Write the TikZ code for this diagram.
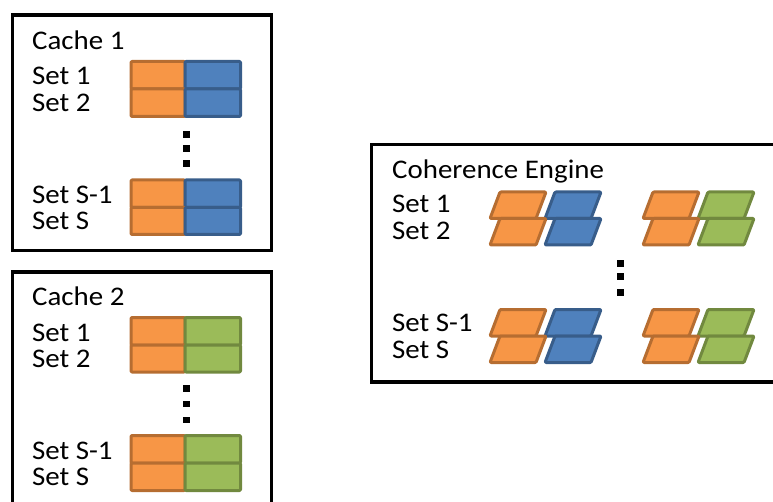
\documentclass[tikz,border=0pt]{standalone}
\usepackage{fontspec}
\setmainfont{Carlito}[FakeStretch=1.075]
\definecolor{orfill}{HTML}{F79646}
\definecolor{ordraw}{HTML}{B66D31}
\definecolor{blfill}{HTML}{4F81BD}
\definecolor{bldraw}{HTML}{385D8A}
\definecolor{grfill}{HTML}{9BBB59}
\definecolor{grdraw}{HTML}{71893F}
\begin{document}
\begin{tikzpicture}[x=1bp,y=-1bp,
  frame/.style={draw=black,line width=3.5bp},
  lbl/.style={anchor=base west,inner sep=0pt,font=\fontsize{27}{30}\selectfont},
  cellbase/.style={line width=3bp,rounded corners=1bp,line join=round},
  orcell/.style={cellbase,fill=orfill,draw=ordraw},
  blcell/.style={cellbase,fill=blfill,draw=bldraw},
  grcell/.style={cellbase,fill=grfill,draw=grdraw},
  dotsq/.style={fill=black}]
\useasboundingbox (0,0) rectangle (773,502);
\clip (0,0) rectangle (773,502);

% outer frames
\draw[frame] (12.7,15) rectangle (271.5,250.5);
\draw[frame] (12.7,272) rectangle (271.5,520);
\draw[frame] (371.5,144.5) rectangle (790,382);

% Cache 1
\node[lbl] (c1title) at (32,50) {Cache 1};
\node[lbl] (c1s1) at (32,85) {Set 1};
\node[lbl] (c1s2) at (32,111.7) {Set 2};
\node[lbl] (c1sm) at (32,203.3) {Set S-1};
\node[lbl] (c1ss) at (32,230) {Set S};
\foreach \ya/\yb in {61.5/89,89/116.5,180/207.5,207.5/234.5}{
  \draw[orcell] (131,\ya) rectangle (185,\yb);
  \draw[blcell] (185,\ya) rectangle (240.5,\yb);
}
\foreach \y in {134.7,148.7,163.7}
  \fill[dotsq] (182.5,\y-3.25) rectangle ++(7,6.5);

% Cache 2
\node[lbl] (c2title) at (32,306) {Cache 2};
\node[lbl] (c2s1) at (32,341) {Set 1};
\node[lbl] (c2s2) at (32,367.3) {Set 2};
\node[lbl] (c2sm) at (32,459) {Set S-1};
\node[lbl] (c2ss) at (32,485) {Set S};
\foreach \ya/\yb in {317.5/345,345/372,435.5/463,463/490.5}{
  \draw[orcell] (131,\ya) rectangle (185,\yb);
  \draw[grcell] (185,\ya) rectangle (240.5,\yb);
}
\foreach \y in {388.3,404,420}
  \fill[dotsq] (182.5,\y-3.25) rectangle ++(7,6.5);

% Coherence engine
\node[lbl] (cetitle) at (392,179) {Coherence Engine};
\node[lbl] (ces1) at (392,212.7) {Set 1};
\node[lbl] (ces2) at (392,240) {Set 2};
\node[lbl] (cesm) at (392,331.7) {Set S-1};
\node[lbl] (cess) at (392,358.3) {Set S};
\foreach \y in {192,218.5,309.5,336}{
  \foreach \x/\s in {490/orcell,545/blcell,643/orcell,698/grcell}{
    \draw[\s] (\x+10,\y) -- (\x+56,\y) -- (\x+46,\y+26.5) -- (\x,\y+26.5) -- cycle;
  }
}
\foreach \y in {263.3,276.7,292.3}
  \fill[dotsq] (616.5,\y-3.25) rectangle ++(7,6.5);
\end{tikzpicture}
\end{document}
